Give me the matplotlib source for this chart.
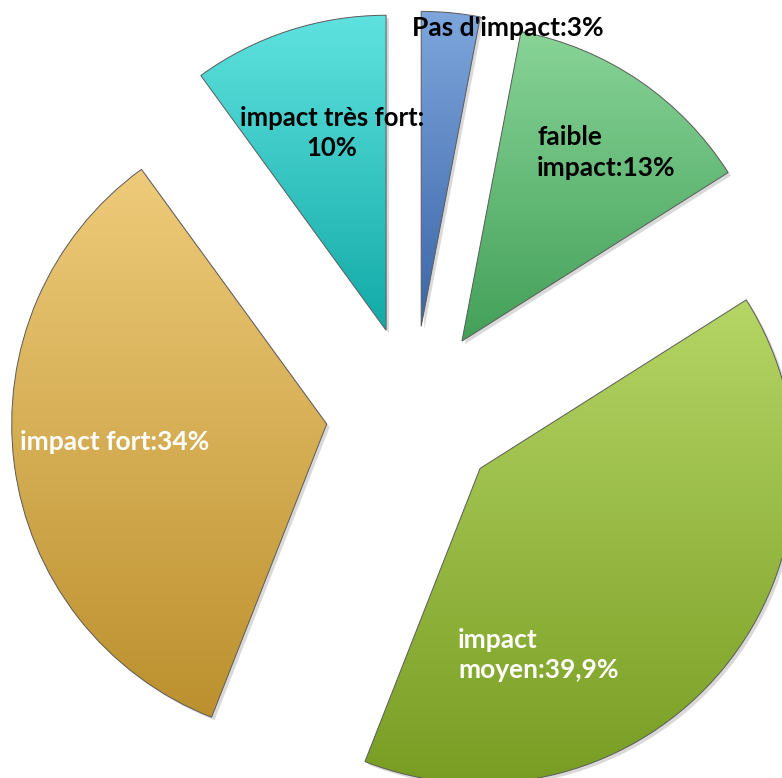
import numpy as np
import matplotlib
matplotlib.use('Agg')
import matplotlib.pyplot as plt
from matplotlib.colors import LinearSegmentedColormap
from matplotlib.patches import Wedge

# Data
labels = ["Pas d'impact:3%", "faible\nimpact:13%", "impact\nmoyen:39,9%",
          "impact fort:34%", "impact très fort:\n10%"]
values = [3, 13, 39.9, 34, 10]
top_colors = ['#7ea6dd', '#88d497', '#b5d565', '#eecb7a', '#5fe2df']
bottom_colors = ['#3a65a6', '#43a059', '#789c22', '#bc902e', '#12aaa7']
text_colors = ['black', 'black', 'white', 'white', 'black']

plt.rcParams['font.family'] = ['Lato', 'DejaVu Sans']

fig = plt.figure(figsize=(7.82, 7.78), dpi=100)
ax = fig.add_axes([0, 0, 1, 1])

# explode is in data units (pixels here)
wedges, _ = ax.pie(values, startangle=90, counterclock=False,
                   explode=[87] * 5, radius=315, center=(413, 365),
                   wedgeprops=dict(edgecolor='#5a5a5a', linewidth=0.7))

ax.set_aspect('equal')
ax.axis('off')

# gradient fill + soft shadow for each slice
for w, c1, c2 in zip(wedges, top_colors, bottom_colors):
    sh = Wedge((w.center[0] + 3, w.center[1] - 3), w.r, w.theta1, w.theta2,
               facecolor='#000000', alpha=0.15, edgecolor='none', zorder=0)
    ax.add_patch(sh)
    verts = w.get_patch_transform().transform(w.get_path().vertices)
    x0, y0 = verts.min(axis=0)
    x1, y1 = verts.max(axis=0)
    cmap = LinearSegmentedColormap.from_list('g', [c2, c1])
    grad = np.linspace(0, 1, 256).reshape(-1, 1)
    im = ax.imshow(grad, cmap=cmap, extent=[x0, x1, y0, y1], origin='lower',
                   aspect='auto', zorder=1)
    im.set_clip_path(w)
    w.set_facecolor('none')
    w.set_zorder(2)

ax.set_xlim(0, 782)
ax.set_ylim(0, 778)

# labels (positions in pixels from top-left)
ax.text(412, 778 - 28, labels[0], color=text_colors[0], fontsize=19,
        fontweight='bold', ha='left', va='center', zorder=5)
ax.text(537, 778 - 152, labels[1], color=text_colors[1], fontsize=19,
        fontweight='bold', ha='left', va='center', linespacing=1.35, zorder=5)
ax.text(458, 778 - 655, labels[2], color=text_colors[2], fontsize=19,
        fontweight='bold', ha='left', va='center', linespacing=1.35, zorder=5)
ax.text(20, 778 - 442, labels[3], color=text_colors[3], fontsize=19,
        fontweight='bold', ha='left', va='center', zorder=5)
ax.text(332, 778 - 133, labels[4], color=text_colors[4], fontsize=18.5,
        fontweight='bold', ha='center', va='center', linespacing=1.3, zorder=5)

fig.savefig('out.png', dpi=100)
